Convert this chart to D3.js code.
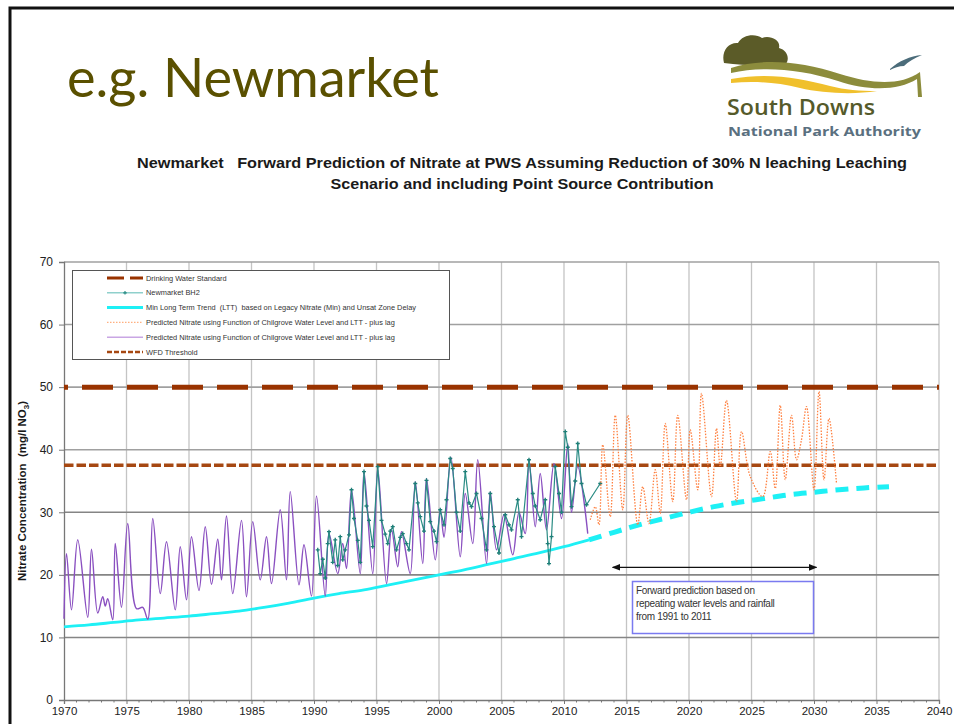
<!DOCTYPE html>
<html>
<head>
<meta charset="utf-8">
<script src="https://cdn.jsdelivr.net/npm/d3@7"></script>
<style>
  body { margin: 0; background: #fff; }
  svg { display: block; font-family: "Liberation Sans", Arial, sans-serif; }
</style>
</head>
<body>
<svg id="chart" width="954" height="724"></svg>
<script>
// ---- data ----
const xTickYears = d3.range(1970, 2041, 5);
const yTickValues = d3.range(0, 71, 10);

const drinkingWaterStandard = 50;
const wfdThreshold = 37.5;

// Min long term trend (LTT)
const lttTrend = [
  [1970, 11.7], [1972, 12.0], [1974, 12.4], [1976, 12.8], [1978, 13.1], [1980, 13.4],
  [1982, 13.8], [1984, 14.2], [1986, 14.8], [1988, 15.5], [1990, 16.3], [1992, 17.0],
  [1994, 17.6], [1996, 18.4], [1998, 19.2], [2000, 20.0], [2002, 20.8], [2004, 21.7],
  [2006, 22.6], [2008, 23.5], [2010, 24.5], [2012, 25.6], [2014, 26.8], [2016, 28.0],
  [2018, 29.0], [2020, 30.0], [2022, 30.9], [2024, 31.6], [2026, 32.2], [2028, 32.8],
  [2030, 33.2], [2032, 33.6], [2034, 33.9], [2036, 34.1]
];
const lttDashFrom = 2012.3;

// predicted nitrate (purple, hindcast)
const predictedPast = [
  [1970.0, 13.0], [1970.2, 23.4], [1970.6, 14.4], [1971.1, 25.6], [1971.9, 13.2], [1972.2, 24.1],
  [1972.7, 13.9], [1973.1, 16.5], [1973.3, 15.0], [1973.5, 16.2], [1973.9, 12.8], [1974.1, 25.0],
  [1974.6, 14.8], [1975.1, 28.2], [1975.8, 14.6], [1976.3, 14.8], [1976.7, 12.9], [1977.1, 29.0],
  [1977.7, 17.0], [1978.2, 25.3], [1978.9, 14.4], [1979.3, 24.5], [1979.8, 16.0], [1980.2, 26.1],
  [1980.8, 17.5], [1981.3, 27.7], [1981.8, 18.5], [1982.3, 25.7], [1982.6, 19.2], [1983.0, 29.4],
  [1983.5, 17.0], [1984.2, 28.7], [1984.6, 16.5], [1985.1, 28.5], [1985.7, 19.2], [1986.2, 26.1],
  [1986.6, 18.6], [1987.3, 30.4], [1987.8, 19.2], [1988.1, 33.3], [1988.8, 18.4], [1989.2, 24.8],
  [1989.8, 16.6], [1990.2, 32.6], [1990.9, 16.6], [1991.2, 26.6], [1991.9, 20.2], [1992.3, 25.0],
  [1992.6, 21.0], [1993.0, 33.6], [1993.7, 20.2], [1994.0, 36.5], [1994.7, 20.2], [1995.1, 37.0],
  [1995.8, 18.6], [1996.2, 27.2], [1996.7, 21.3], [1997.0, 26.9], [1997.7, 20.2], [1998.1, 34.9],
  [1998.7, 21.8], [1999.0, 35.4], [1999.7, 22.4], [2000.1, 30.4], [2000.4, 26.0], [2000.95, 38.8],
  [2001.7, 22.9], [2002.1, 33.0], [2002.7, 25.0], [2003.1, 38.4], [2003.8, 21.8], [2004.1, 33.3],
  [2004.6, 24.0], [2005.2, 29.6], [2005.9, 23.2], [2006.4, 30.0], [2006.9, 26.6], [2007.2, 38.4],
  [2007.7, 27.7], [2008.1, 36.2], [2008.6, 27.2], [2009.2, 37.8], [2009.8, 29.0], [2010.3, 41.0],
  [2010.6, 30.0], [2011.1, 37.3], [2011.9, 26.6]
];

// Newmarket BH2 observed
const observedBH2 = [
  [1990.3, 24.0], [1990.5, 20.2], [1990.7, 22.5], [1990.9, 19.5], [1991.1, 25.0], [1991.2, 26.9],
  [1991.5, 22.0], [1991.7, 25.6], [1991.9, 21.5], [1992.1, 26.1], [1992.3, 22.4], [1992.5, 24.0],
  [1992.8, 26.4], [1993.0, 33.6], [1993.2, 29.0], [1993.5, 25.5], [1993.7, 22.0], [1994.0, 36.5],
  [1994.2, 31.0], [1994.4, 28.7], [1994.7, 24.5], [1995.1, 37.3], [1995.4, 28.7], [1995.7, 26.5],
  [1995.9, 25.0], [1996.1, 27.0], [1996.3, 27.7], [1996.6, 24.0], [1996.9, 26.0], [1997.1, 26.6],
  [1997.4, 25.0], [1997.6, 24.0], [1998.1, 34.6], [1998.3, 31.5], [1998.5, 29.3], [1998.8, 27.0],
  [1999.0, 35.1], [1999.3, 28.5], [1999.6, 27.0], [1999.8, 25.3], [2000.1, 30.4], [2000.4, 28.0],
  [2000.6, 32.0], [2000.9, 38.6], [2001.1, 37.0], [2001.4, 30.0], [2001.7, 27.0], [2002.1, 36.5],
  [2002.4, 31.5], [2002.6, 30.9], [2003.0, 33.0], [2003.4, 29.0], [2003.8, 24.0], [2004.1, 33.0],
  [2004.4, 27.7], [2004.8, 23.5], [2005.3, 29.6], [2005.6, 28.0], [2005.8, 27.2], [2006.3, 32.0],
  [2006.6, 26.1], [2007.2, 38.4], [2007.5, 33.0], [2007.7, 31.0], [2008.1, 28.8], [2008.5, 32.0],
  [2008.7, 25.0], [2008.8, 21.8], [2009.0, 26.1], [2009.3, 37.3], [2009.6, 33.0], [2009.8, 30.0],
  [2010.1, 42.9], [2010.3, 40.4], [2010.6, 30.9], [2010.9, 35.0], [2011.1, 41.0], [2011.4, 34.6],
  [2011.8, 31.2], [2012.9, 34.6]
];

// predicted nitrate (orange, forward prediction)
const predictedFuture = [
  [2012.1, 28.8], [2012.5, 30.9], [2012.8, 28.0], [2013.1, 40.8], [2013.7, 29.3], [2014.1, 45.5],
  [2014.7, 30.4], [2015.1, 45.5], [2015.9, 28.0], [2016.3, 34.1], [2016.8, 28.2], [2017.3, 36.8],
  [2017.7, 29.8], [2018.1, 44.2], [2018.7, 31.7], [2019.1, 45.5], [2019.8, 32.0], [2020.1, 43.2],
  [2020.7, 33.6], [2021.0, 49.0], [2021.8, 32.5], [2022.2, 43.4], [2022.5, 37.3], [2023.0, 47.9],
  [2023.8, 31.7], [2024.2, 42.9], [2024.9, 35.7], [2025.9, 32.5], [2026.5, 39.7], [2026.9, 33.8],
  [2027.3, 47.1], [2027.7, 35.2], [2028.2, 45.5], [2028.6, 38.4], [2029.0, 41.6], [2029.4, 46.9],
  [2030.0, 33.6], [2030.4, 49.3], [2030.8, 35.2], [2031.2, 45.0], [2031.8, 34.6]
];

const legendLabels = [
  "Drinking Water Standard",
  "Newmarket BH2",
  "Min Long Term Trend  (LTT)  based on Legacy Nitrate (Min) and Unsat Zone Delay",
  "Predicted Nitrate using Function of Chilgrove Water Level and LTT - plus lag",
  "Predicted Nitrate using Function of Chilgrove Water Level and LTT - plus lag",
  "WFD Threshold"
];

const noteLines = [
  "Forward prediction based on",
  "repeating water levels and rainfall",
  "from 1991 to 2011"
];

// ---- drawing ----
const svg = d3.select("#chart");
const plot = { left: 64, right: 939, top: 262, bottom: 700 };

const x = d3.scaleLinear().domain([1970, 2040]).range([plot.left, plot.right]);
const y = d3.scaleLinear().domain([0, 70]).range([plot.bottom, plot.top]);

// slide frame
svg.append("path")
  .attr("d", "M10,724 L10,8 L954,8")
  .attr("fill", "none").attr("stroke", "#111").attr("stroke-width", 3);

// slide title
svg.append("text")
  .attr("x", 67).attr("y", 97)
  .attr("font-family", "Lato, 'Open Sans', sans-serif")
  .attr("font-size", 54)
  .attr("fill", "#5a5000")
  .attr("textLength", 372).attr("lengthAdjust", "spacingAndGlyphs")
  .text("e.g. Newmarket");

// logo (South Downs National Park Authority)
const logo = svg.append("g");
logo.append("path")
  .attr("d", "M724,63 C721,52 728,42 738,43 C742,35 755,33 762,38 C770,35 781,40 779,48 C787,50 790,58 786,64 C770,66 745,66 724,63 Z")
  .attr("fill", "#5b5b28");
logo.append("path")
  .attr("d", "M731,68 C762,58 800,61 840,74 C872,84 900,86 920,72 L922,97 L918,97 L917,79 C898,91 868,91 838,81 C800,69 763,66 731,73 Z")
  .attr("fill", "#8c8c3c");
logo.append("path")
  .attr("d", "M731,79 C768,72 800,78 830,86 C845,90 860,91 877,91 C852,95 822,93 800,88 C775,82 754,81 731,83 Z")
  .attr("fill", "#f0c02c");
logo.append("path")
  .attr("d", "M890,69 C899,61 910,56 922,55 C914,58 908,62 904,66 C899,66 894,68 890,70 Z")
  .attr("fill", "#4b6c7a");
logo.append("text")
  .attr("x", 727).attr("y", 115)
  .attr("font-family", "'Open Sans', sans-serif").attr("font-weight", 600)
  .attr("font-size", 22).attr("fill", "#555a2a")
  .attr("textLength", 148).attr("lengthAdjust", "spacingAndGlyphs")
  .text("South Downs");
logo.append("text")
  .attr("x", 728).attr("y", 136)
  .attr("font-family", "'Open Sans', sans-serif").attr("font-weight", 700)
  .attr("font-size", 12).attr("fill", "#5a7080")
  .attr("textLength", 193).attr("lengthAdjust", "spacingAndGlyphs")
  .text("National Park Authority");

// chart title
const title = svg.append("text")
  .attr("text-anchor", "middle")
  .attr("font-weight", "bold").attr("font-size", 15.5).attr("fill", "#1a1a1a");
title.append("tspan").attr("x", 522).attr("y", 168)
  .attr("xml:space", "preserve")
  .attr("textLength", 770).attr("lengthAdjust", "spacingAndGlyphs")
  .text("Newmarket   Forward Prediction of Nitrate at PWS Assuming Reduction of 30% N leaching Leaching");
title.append("tspan").attr("x", 522).attr("y", 189)
  .attr("textLength", 383).attr("lengthAdjust", "spacingAndGlyphs")
  .text("Scenario and including Point Source Contribution");

// grid
svg.append("g").selectAll("line")
  .data(xTickYears.filter(d => d > 1970))
  .join("line")
  .attr("x1", d => x(d)).attr("x2", d => x(d))
  .attr("y1", plot.top).attr("y2", plot.bottom)
  .attr("stroke", "#c4c4c4").attr("stroke-width", 1.3);

svg.append("g").selectAll("line")
  .data(yTickValues.filter(d => d > 0))
  .join("line")
  .attr("x1", plot.left).attr("x2", plot.right)
  .attr("y1", d => y(d)).attr("y2", d => y(d))
  .attr("stroke", d => d >= 40 ? "#a0a0a0" : "#858585").attr("stroke-width", 1.6);

// axes
const yAxis = svg.append("g")
  .attr("transform", `translate(${plot.left},0)`)
  .call(d3.axisLeft(y).tickValues(yTickValues).tickSize(5).tickPadding(6));
yAxis.select(".domain").attr("stroke", "#777").attr("stroke-width", 1.3);
yAxis.selectAll(".tick line").attr("stroke", "#777");
yAxis.selectAll("text").attr("font-size", 12).attr("fill", "#222")
  .attr("font-family", "'Liberation Sans', Arial, sans-serif");

const xAxis = svg.append("g")
  .attr("transform", `translate(0,${plot.bottom})`)
  .call(d3.axisBottom(x).tickValues(xTickYears).tickFormat(d3.format("d")).tickSize(4).tickPadding(3));
xAxis.select(".domain").attr("stroke", "#777").attr("stroke-width", 1.3);
xAxis.selectAll(".tick line").attr("stroke", "#777");
xAxis.selectAll("text").attr("font-size", 11.5).attr("fill", "#222")
  .attr("font-family", "'Liberation Sans', Arial, sans-serif");

svg.append("g").selectAll("line")
  .data(d3.range(1970, 2041).filter(d => d % 5 !== 0))
  .join("line")
  .attr("x1", d => x(d)).attr("x2", d => x(d))
  .attr("y1", plot.bottom).attr("y2", plot.bottom + 2.5)
  .attr("stroke", "#777");

// y axis label
const yLabel = svg.append("text")
  .attr("transform", `translate(26,${(plot.top + plot.bottom) / 2 + 10}) rotate(-90)`)
  .attr("text-anchor", "middle")
  .attr("font-weight", "bold").attr("font-size", 11.5).attr("fill", "#1a1a1a");
yLabel.append("tspan").attr("xml:space", "preserve").text("Nitrate Concentration  (mg/l NO");
yLabel.append("tspan").attr("font-size", 8).attr("dy", 3).text("3");
yLabel.append("tspan").attr("dy", -3).text(")");

// series
const line = d3.line().x(d => x(d[0])).y(d => y(d[1]));
const smooth = d3.line().x(d => x(d[0])).y(d => y(d[1])).curve(d3.curveCatmullRom.alpha(0.5));

// drinking water standard
svg.append("line")
  .attr("x1", plot.left).attr("x2", plot.right)
  .attr("y1", y(drinkingWaterStandard)).attr("y2", y(drinkingWaterStandard))
  .attr("stroke", "#993300").attr("stroke-width", 5)
  .attr("stroke-dasharray", "31 14").attr("stroke-dashoffset", 27);

// WFD threshold
svg.append("line")
  .attr("x1", plot.left).attr("x2", plot.right)
  .attr("y1", y(wfdThreshold)).attr("y2", y(wfdThreshold))
  .attr("stroke", "#a64812").attr("stroke-width", 3.5)
  .attr("stroke-dasharray", "9.5 3");

// LTT trend
svg.append("path")
  .datum(lttTrend.filter(d => d[0] <= lttDashFrom + 0.1))
  .attr("d", smooth).attr("fill", "none")
  .attr("stroke", "#1ef0f5").attr("stroke-width", 2.8);
const lttFuture = lttTrend.filter(d => d[0] >= 2012);
svg.append("path")
  .datum(lttFuture)
  .attr("d", smooth).attr("fill", "none")
  .attr("stroke", "#1ef0f5").attr("stroke-width", 5)
  .attr("stroke-dasharray", "13 8");

// predicted past (purple)
svg.append("path")
  .datum(predictedPast)
  .attr("d", smooth).attr("fill", "none")
  .attr("stroke", "#8a50c0").attr("stroke-width", 1.4)
  .attr("stroke-linejoin", "round");

// observed BH2 (teal)
svg.append("path")
  .datum(observedBH2)
  .attr("d", line).attr("fill", "none")
  .attr("stroke", "#2a8c84").attr("stroke-width", 1.2);
svg.append("g").selectAll("path")
  .data(observedBH2)
  .join("path")
  .attr("transform", d => `translate(${x(d[0])},${y(d[1])})`)
  .attr("d", d3.symbol(d3.symbolCross, 9))
  .attr("fill", "#1f7f78");

// predicted future (orange dotted)
svg.append("path")
  .datum(predictedFuture)
  .attr("d", smooth).attr("fill", "none")
  .attr("stroke", "#ff8040").attr("stroke-width", 1.3)
  .attr("stroke-dasharray", "1.5 1.5");

// legend
const legend = svg.append("g");
legend.append("rect")
  .attr("x", 72.5).attr("y", 270.5).attr("width", 377).attr("height", 89)
  .attr("fill", "#fff").attr("stroke", "#555").attr("stroke-width", 1);

const legendRowY = i => 278 + i * 14.8;
const legendStyles = [
  { stroke: "#993300", width: 3, dash: "17 6" },
  { stroke: "#8fd0cc", width: 1.5, dash: null, marker: true },
  { stroke: "#1ef0f5", width: 3, dash: null },
  { stroke: "#ffb080", width: 1.3, dash: "1.5 1.5" },
  { stroke: "#c9a6e4", width: 1.5, dash: null },
  { stroke: "#a64812", width: 2.5, dash: "5 2" }
];
legendLabels.forEach((label, i) => {
  const s = legendStyles[i];
  legend.append("line")
    .attr("x1", 107).attr("x2", 143)
    .attr("y1", legendRowY(i)).attr("y2", legendRowY(i))
    .attr("stroke", s.stroke).attr("stroke-width", s.width)
    .attr("stroke-dasharray", s.dash);
  if (s.marker) {
    legend.append("path")
      .attr("transform", `translate(125,${legendRowY(i)})`)
      .attr("d", d3.symbol(d3.symbolCross, 7))
      .attr("fill", "#2a8c84");
  }
  legend.append("text")
    .attr("x", 146).attr("y", legendRowY(i) + 2.5)
    .attr("font-size", 7.4).attr("fill", "#333")
    .attr("xml:space", "preserve")
    .text(label);
});

// forward prediction annotation
const defs = svg.append("defs");
defs.append("marker")
  .attr("id", "arrow").attr("viewBox", "0 0 10 10")
  .attr("refX", 9).attr("refY", 5)
  .attr("markerWidth", 7).attr("markerHeight", 7)
  .attr("orient", "auto-start-reverse")
  .append("path").attr("d", "M0,1 L10,5 L0,9 Z").attr("fill", "#111");

svg.append("line")
  .attr("x1", x(2013.9)).attr("x2", x(2030.2))
  .attr("y1", y(21.2)).attr("y2", y(21.2))
  .attr("stroke", "#111").attr("stroke-width", 1.2)
  .attr("marker-start", "url(#arrow)").attr("marker-end", "url(#arrow)");

svg.append("rect")
  .attr("x", 632.5).attr("y", 581.5).attr("width", 181).attr("height", 52)
  .attr("fill", "#fff").attr("stroke", "#7a7af0").attr("stroke-width", 1.5);

svg.append("g").selectAll("text")
  .data(noteLines)
  .join("text")
  .attr("x", 636).attr("y", (d, i) => 594 + i * 13)
  .attr("font-size", 10).attr("fill", "#333")
  .attr("letter-spacing", -0.3)
  .text(d => d);
</script>
</body>
</html>
